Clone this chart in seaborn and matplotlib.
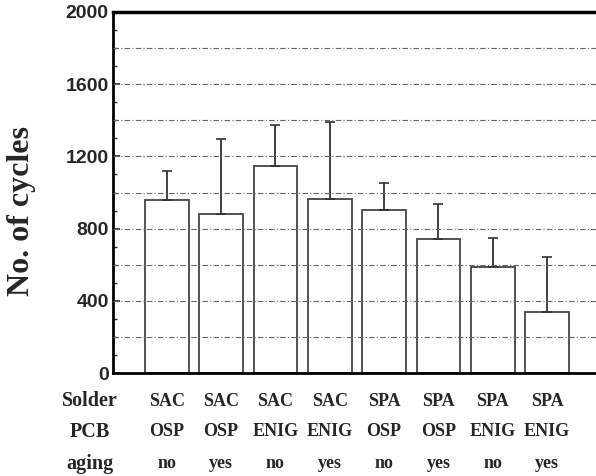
import matplotlib
matplotlib.use("Agg")
import matplotlib.pyplot as plt
import matplotlib.transforms as mtransforms
from matplotlib.ticker import MultipleLocator
import seaborn as sns
import pandas as pd
import numpy as np

# ---- data ----
solder = ["SAC", "SAC", "SAC", "SAC", "SPA", "SPA", "SPA", "SPA"]
pcb = ["OSP", "OSP", "ENIG", "ENIG", "OSP", "OSP", "ENIG", "ENIG"]
aging = ["no", "yes", "no", "yes", "no", "yes", "no", "yes"]
cycles = [957, 880, 1146, 965, 902, 741, 589, 339]
err_upper = [160, 418, 228, 425, 150, 198, 157, 305]
row_names = ["Solder", "PCB", "aging"]
y_ticks = [0, 400, 800, 1200, 1600, 2000]
grid_levels = [200, 400, 600, 800, 1000, 1200, 1400, 1600, 1800]

groups = [f"{s}-{p}-{a}" for s, p, a in zip(solder, pcb, aging)]
df = pd.DataFrame({"group": groups, "cycles": cycles})

sns.set_style("white")
W, H = 596, 476
fig = plt.figure(figsize=(W / 100, H / 100), dpi=100)
ax = fig.add_axes([113 / W, 1 - 373 / H, (W - 113) / W, (373 - 12) / H])

sns.barplot(data=df, x="group", y="cycles", color="white", edgecolor="#444444",
            linewidth=1.3, width=0.8, errorbar=None, ax=ax, zorder=2)
ax.errorbar(x=np.arange(len(cycles)), y=cycles,
            yerr=[np.zeros(len(cycles)), err_upper], fmt="none",
            ecolor="#333333", elinewidth=1.3, capsize=3.5, capthick=1.2, zorder=3)

for g in grid_levels:
    ax.axhline(g, color="#666666", lw=0.8, ls=(0, (5, 2, 1, 2)), zorder=4)

ax.set_xlim(-0.99, 7.9)
ax.set_ylim(0, 2000)
ax.set_yticks(y_ticks)
ax.yaxis.set_minor_locator(MultipleLocator(100))
ax.tick_params(axis="y", which="major", direction="in", length=5, width=1.2,
               left=True, pad=3)
ax.tick_params(axis="y", which="minor", direction="in", length=3, width=1.0, left=True)
for lab in ax.get_yticklabels():
    lab.set_fontfamily("Liberation Sans")
    lab.set_fontweight("bold")
    lab.set_fontsize(14)
ax.set_xticks(range(len(groups)))
ax.set_xticklabels([])
ax.tick_params(axis="x", length=0)
ax.set_xlabel("")
ax.set_ylabel("")

for side in ["top", "left", "bottom", "right"]:
    ax.spines[side].set_color("black")
ax.spines["right"].set_visible(False)
ax.spines["top"].set_linewidth(2.5)
ax.spines["left"].set_linewidth(2.0)
ax.spines["bottom"].set_linewidth(2.0)

fig.text(22 / W, 1 - 211 / H, "No. of cycles", rotation=90, ha="center", va="center",
         family="Liberation Serif", fontweight="bold", fontsize=23)

row_y = [401, 432, 464]
for name, yp in zip(row_names, row_y):
    fig.text(90 / W, 1 - yp / H, name, ha="center", va="center",
             family="Liberation Serif", fontweight="bold", fontsize=14.5)

trans = mtransforms.blended_transform_factory(ax.transData, fig.transFigure)
for i, (s, p, a) in enumerate(zip(solder, pcb, aging)):
    for txt, yp in zip([s, p, a], row_y):
        ax.text(i, 1 - yp / H, txt, transform=trans, ha="center", va="center",
                family="Liberation Serif", fontweight="bold", fontsize=13, clip_on=False)

fig.savefig("out.png", dpi=100)
